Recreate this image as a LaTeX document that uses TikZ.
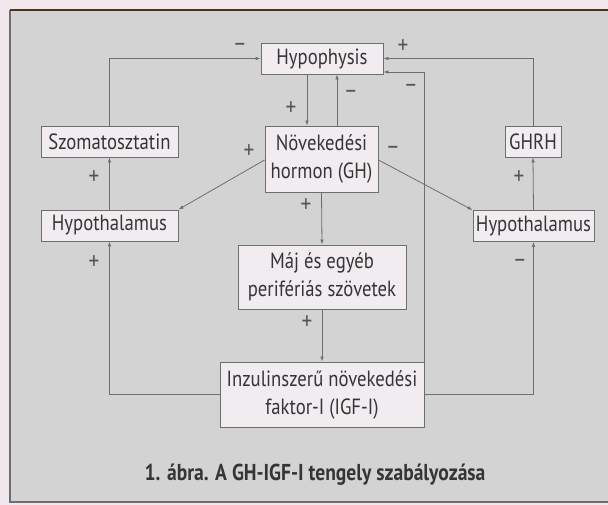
\documentclass[tikz,border=0pt]{standalone}
\usepackage{fontspec}
\setmainfont[FakeStretch=0.85]{PT Sans}
\usepackage{xcolor}
\usetikzlibrary{arrows.meta}
\definecolor{outside}{HTML}{F1E8EE}
\definecolor{panel}{HTML}{D3D3D3}
\definecolor{boxfill}{HTML}{F0ECF0}
\definecolor{lines}{HTML}{6E6E6E}
\definecolor{ink}{HTML}{353535}
\definecolor{signink}{HTML}{555555}

\begin{document}
\begin{tikzpicture}[x=1pt,y=1pt,
	boxed/.style={draw=lines,fill=boxfill,line width=0.9pt,inner sep=0pt,
		text=ink,font=\fontsize{22}{28}\selectfont,align=center},
	sign/.style={text=signink,inner sep=0pt,font=\fontsize{25}{26}\selectfont},
	link/.style={draw=lines,line width=0.8pt,-{Latex[length=5pt,width=3.6pt]}}]
\useasboundingbox (0,0) rectangle (608,-505);
\fill[outside] (0,0) rectangle (608,-505);
\fill[panel] (10,-10) rectangle (612,-502);
\draw[lines,line width=1.2pt] (612,-502) -- (10,-502) -- (10,-10);
\draw[black!60!brown,line width=1.8pt] (10,-10) -- (612,-10);

	% boxes
	\node[boxed,minimum width=122,minimum height=31] (Hyp) at (322,-58.5) {Hypophysis};
	\node[boxed,minimum width=137,minimum height=31] (Szom) at (109.5,-141.5) {Szomatosztatin};
	\node[boxed,minimum width=113,minimum height=66] (GH) at (321.5,-159) {Növekedési\\hormon (GH)};
	\node[boxed,minimum width=56,minimum height=31] (GHRH) at (533,-141.5) {GHRH};
	\node[boxed,minimum width=137,minimum height=31] (HypL) at (109.5,-225.5) {Hypothalamus};
	\node[boxed,minimum width=121,minimum height=31] (HypR) at (533.5,-226) {Hypothalamus};
	\node[boxed,minimum width=168,minimum height=64] (Maj) at (322,-277) {Máj és egyéb\\perifériás szövetek};
	\node[boxed,minimum width=204,minimum height=65] (IGF) at (322,-394.5) {Inzulinszerű növekedési\\faktor-I (IGF-I)};

	% connectors
	\draw[link] (Szom.north) |- (Hyp.west);
	\draw[link] (GHRH.north) |- (Hyp.east);
	\draw[link] ([xshift=-15]Hyp.south) -- ([xshift=-14.5]GH.north);
	\draw[link] ([xshift=15.5]GH.north) -- ([xshift=15]Hyp.south);
	\draw[link] (IGF.north east) |- ([yshift=-13.5]Hyp.east);
	\draw[link] ([yshift=-1]GH.west) -- (HypL.north east);
	\draw[link] ([yshift=-1]GH.east) -- (HypR.north west);
	\draw[link] (HypL.north) -- (Szom.south);
	\draw[link] (HypR.north) -- (GHRH.south);
	\draw[link] (GH.south) -- (Maj.north);
	\draw[link] (Maj.south) -- (IGF.north);
	\draw[link] (IGF.west) -| (HypL.south);
	\draw[link] (IGF.east) -| (HypR.south);

	% signs
	\node[sign] (s1) at (240,-47) {\textendash};
	\node[sign] (s2) at (403,-47) {+};
	\node[sign] (s3) at (291,-109) {+};
	\node[sign] (s4) at (351,-94) {\textendash};
	\node[sign] (s5) at (411,-88) {\textendash};
	\node[sign] (s6) at (249,-152) {+};
	\node[sign] (s7) at (393,-150) {\textendash};
	\node[sign] (s8) at (94,-178) {+};
	\node[sign] (s9) at (519,-178) {+};
	\node[sign] (s10) at (306,-206) {+};
	\node[sign] (s11) at (94,-263) {+};
	\node[sign] (s12) at (520,-263) {\textendash};
	\node[sign] (s13) at (307,-323) {+};

	\node[text=ink,font=\fontsize{23}{24}\selectfont\bfseries] (cap) at (315,-475) {1. ábra. A GH-IGF-I tengely szabályozása};
\end{tikzpicture}
\end{document}
